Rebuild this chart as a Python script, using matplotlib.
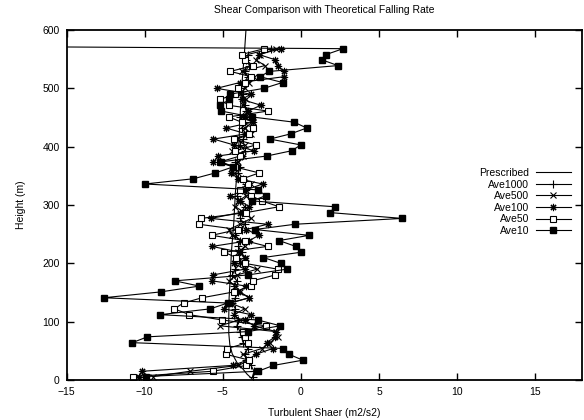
import matplotlib
matplotlib.use("Agg")
import matplotlib.pyplot as plt
from matplotlib.lines import Line2D

plt.rcParams['font.family'] = ['Liberation Sans', 'DejaVu Sans']

# Measurement heights (m) shared by the averaged series
heights = [6, 15, 25, 34, 44, 54, 64, 74, 83, 93, 103, 112, 122, 132, 141, 151,
           161, 170, 180, 190, 200, 210, 219, 229, 239, 248, 258, 267, 277, 287,
           297, 307, 316, 326, 336, 345, 355, 365, 374, 384, 393, 403, 413, 422,
           432, 442, 451, 461, 471, 481, 490, 500, 510, 520, 529, 539, 549, 558, 568]

# Theoretical (prescribed) shear profile
prescribed_z = [0, 10, 20, 30, 45, 60, 80, 110, 140, 180, 220, 270, 320, 390,
                450, 500, 560, 600]
prescribed_x = [-3.05, -3.45, -3.75, -4.1, -4.4, -4.55, -4.62, -4.62, -4.6,
                -4.52, -4.45, -4.3, -4.2, -4.0, -3.9, -3.8, -3.62, -3.52]

ave1000 = [-3.1, -3.0, -3.2, -3.5, -3.6, -3.4, -3.7, -3.8, -3.9, -4.1, -4.0, -4.3,
           -4.2, -4.4, -4.2, -4.0, -4.3, -4.1, -4.4, -4.2, -3.9, -4.1, -3.8, -4.0,
           -3.9, -4.2, -3.8, -3.6, -3.9, -3.8, -3.6, -3.9, -4.1, -3.8, -3.5, -3.7,
           -4.0, -3.9, -4.2, -3.8, -3.6, -3.9, -3.7, -3.5, -3.8, -3.6, -3.9, -3.5,
           -3.6, -3.8, -3.7, -3.9, -3.6, -3.4, -3.6, -3.3, -3.5, -3.4, -1.93]

ave500 = [-9.47, -7.1, -4.0, -3.3, -3.7, -2.5, -2.0, -1.5, -1.6, -5.2, -3.9, -4.3,
          -3.6, -4.5, -3.3, -3.9, -4.2, -4.6, -4.1, -2.8, -3.8, -3.5, -4.0, -3.6,
          -3.8, -4.4, -4.6, -3.9, -3.2, -3.6, -4.2, -4.0, -3.5, -3.7, -3.2, -3.9,
          -4.3, -4.4, -4.0, -3.7, -4.4, -3.6, -4.1, -3.2, -3.6, -3.1, -3.8, -3.3,
          -3.7, -3.5, -3.9, -3.6, -3.3, -3.0, -3.8, -2.3, -2.9, -2.6, -1.6]

ave100 = [-10.4, -10.15, -4.38, -3.4, -2.9, -1.8, -2.2, -1.65, -1.6, -3.0, -3.6,
          -3.2, -4.9, -4.6, -3.3, -4.0, -3.5, -5.69, -5.66, -3.6, -4.3, -3.6, -3.9,
          -5.69, -3.3, -2.7, -3.5, -2.14, -5.76, -3.9, -3.3, -3.9, -4.52, -3.5,
          -2.46, -4.0, -4.5, -4.1, -5.6, -5.3, -3.0, -4.3, -5.6, -3.5, -4.8, -3.1,
          -3.6, -3.4, -2.56, -3.8, -3.2, -5.4, -3.9, -1.07, -1.07, -1.5, -1.65,
          -2.7, -1.29]

ave50 = [-10.75, -5.65, -3.5, -3.3, -4.8, -4.73, -3.4, -3.6, -3.69, -2.25, -5.08,
         -7.14, -8.11, -7.52, -6.33, -4.3, -3.2, -3.1, -1.65, -1.5, -3.6, -4.16,
         -4.9, -2.14, -3.6, -5.71, -4.03, -6.54, -6.39, -3.5, -1.4, -2.5, -3.2,
         -3.9, -3.4, -3.74, -2.67, -4.2, -5.16, -3.9, -4.2, -2.88, -4.3, -3.3,
         -3.04, -3.8, -4.63, -2.12, -4.63, -5.18, -4.2, -4.0, -3.6, -3.2, -4.52,
         -3.05, -3.6, -3.8, -2.35]

ave10 = [-9.9, -2.74, -1.76, 0.12, -0.76, -1.12, -10.8, -9.83, -3.37, -1.33, -2.78,
         -9.0, -5.8, -4.69, -12.62, -8.99, -6.5, -8.09, -3.42, -0.9, -1.29, -2.4,
         0.0, -0.33, -1.4, 0.52, -2.95, -0.38, 6.5, 1.86, 2.18, -3.14, -2.25,
         -2.76, -10.0, -6.88, -5.48, -4.38, -5.11, -2.18, -0.59, -0.01, -1.99,
         -0.65, 0.37, -0.44, -3.16, -5.1, -5.16, -4.58, -4.54, -2.37, -1.18,
         -2.63, -2.03, 2.37, 1.33, 1.62, 2.7]
# Last Ave10 sample, far off scale to the left
ave10_top_z = 572.5
ave10_top_x = -25.0

x_ticks = [-15, -10, -5, 0, 5, 10, 15]
y_ticks = [0, 100, 200, 300, 400, 500, 600]

W, H = 584, 420
fig = plt.figure(figsize=(W / 100, H / 100), dpi=100)
left, right, bottom, top = 66.7, 582.0, 380.0, 30.0
ax = fig.add_axes([left / W, (H - bottom) / H, (right - left) / W, (bottom - top) / H])

lw = 0.8
ms = 4.2
ax.plot(prescribed_x, prescribed_z, color='black', lw=lw, label='Prescribed')
ax.plot(ave1000, heights, color='black', lw=lw, marker='+', ms=ms + 1,
        mew=0.8, label='Ave1000')
ax.plot(ave500, heights, color='black', lw=lw, marker='x', ms=ms,
        mew=0.8, label='Ave500')
ax.plot(ave100, heights, color='black', lw=lw, marker=(8, 2, 0), ms=ms + 1,
        mew=0.8, label='Ave100')
ax.plot(ave50, heights, color='black', lw=lw, marker='s', ms=ms,
        mfc='white', mec='black', mew=0.8, label='Ave50')
ax.plot(ave10 + [ave10_top_x], heights + [ave10_top_z], color='black', lw=lw,
        marker='s', ms=ms, mfc='black', mec='black', label='Ave10')

ax.set_xlim(-15, 18)
ax.set_ylim(0, 600)
ax.set_xticks(x_ticks)
ax.set_yticks(y_ticks)
ax.tick_params(direction='in', length=5, width=1.0, top=True, right=True,
               labelsize=7.5, pad=5)
for s in ax.spines.values():
    s.set_linewidth(1.3)

ax.set_title('Shear Comparison with Theoretical Falling Rate', fontsize=7.5, pad=12)
ax.set_xlabel('Turbulent Shaer (m2/s2)', fontsize=7.5, labelpad=8)
ax.set_ylabel('Height (m)', fontsize=7.5, labelpad=12)

leg = ax.legend(loc='upper right', bbox_to_anchor=(571 / W, (H - 168) / H),
                bbox_transform=fig.transFigure, frameon=False, markerfirst=False,
                fontsize=7.5, handlelength=3.4, handletextpad=0.6,
                labelspacing=0.15, borderpad=0, borderaxespad=0)
for t in leg.get_texts():
    t.set_ha('right')

fig.savefig('out.png', dpi=100)
